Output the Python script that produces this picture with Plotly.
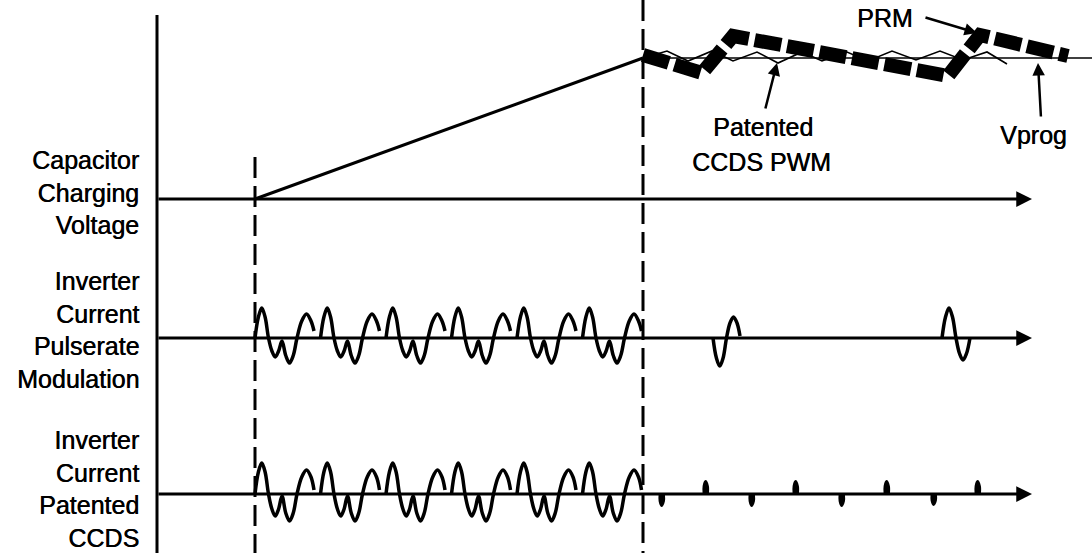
import plotly.graph_objects as go

# ---------------- data (pixel-space schematic coordinates) ----------------
W, H = 1092, 553
AXIS_X = 157
AXIS_TOP = 15
T_START = 255          # left dashed marker (charging start)
T_SWITCH = 643         # right dashed marker (Vprog reached)
AXIS_END = 1032
BASE_CAP = 199
BASE_PRM = 338
BASE_CCDS = 494
V_PROG = 58

# one repetition of the inverter current waveform during charging
PATTERN_DX = [0, 3.4, 6.75, 10.1, 13.5, 16.9, 20.25, 23.6, 27,
              30.75, 34.5, 38.25, 42, 46.75, 51.5, 56, 59]
PRM_PATTERN_AMP = [0, 21, 30, 21, 0, -13, -19, -13, -3,
                   -17.5, -25, -17.5, 0, 17, 24, 17, 7]
CCDS_PATTERN_AMP = [0, 22, 31, 22, 0, -15, -22, -15, -2,
                    -19, -27, -19, 0, 17, 24, 17, 4]
PATTERN_STARTS = [255, 320.5, 386, 451.5, 517, 582.5]

# pulse-rate-modulation refresh pulses after Vprog
PRM_REFRESH_START = [713, 942]
PRM_REFRESH_DX = [[0, 3.4, 6.75, 10.1, 13.5, 17, 20.5, 24, 27],
                  [0, 3.5, 7, 10.5, 14, 17.5, 21, 24.5, 28]]
PRM_REFRESH_AMP = [[0, -20, -28, -20, 0, 15, 21, 15, 2],
                   [0, 21, 30, 21, 0, -15.5, -22, -15.5, 0]]

# CCDS tiny refresh blips after Vprog
BLIP_X = [662, 706, 752, 796, 842, 887, 934, 978]
BLIP_H = [-12, 13, -12, 13, -12, 13, -11, 13]

# PRM voltage (thick dashed) and CCDS PWM voltage (thin zigzag)
PRM_V_X = [643, 702, 733, 948, 980, 1068]
PRM_V_Y = [55, 73, 36, 76, 35, 56]
ZIG_X = [643, 667, 688, 712, 733, 757, 778, 802, 822, 847, 868, 892, 916, 940, 963, 987, 1007]
ZIG_Y = [58, 51, 61, 51, 61, 52, 63, 52, 61, 52, 61, 51, 60, 51, 60, 52, 64]

LEFT_LABELS = ["Capacitor<br>Charging<br>Voltage",
               "Inverter<br>Current<br>Pulserate<br>Modulation",
               "Inverter<br>Current<br>Patented<br>CCDS"]
LEFT_LABEL_Y = [192, 330, 489]

FONT = "Liberation Sans, Arial, Helvetica, sans-serif"
BLACK = "black"
TXT = dict(family=FONT, size=25, color=BLACK, shadow="0.5px 0px 0px black")

fig = go.Figure()


def line(x, y, width=3, dash=None, shape="linear", fill=None):
    fig.add_trace(go.Scatter(x=x, y=y, mode="lines", hoverinfo="skip",
                             showlegend=False, fill=fill, fillcolor=BLACK,
                             line=dict(color=BLACK, width=width, dash=dash, shape=shape,
                                       smoothing=1.0)))


# vertical axis
line([AXIS_X, AXIS_X], [AXIS_TOP, H])
# dashed markers
line([T_START, T_START], [157, H], width=3, dash="21px,8px")
line([T_SWITCH, T_SWITCH], [0, H], width=3, dash="21px,8px")

# baselines with arrows
for base in (BASE_CAP, BASE_PRM, BASE_CCDS):
    fig.add_annotation(x=AXIS_END, y=base, ax=AXIS_X, ay=base, axref="x", ayref="y",
                       xref="x", yref="y", text="", showarrow=True,
                       arrowhead=2, arrowwidth=3, arrowsize=1.05, arrowcolor=BLACK)

# capacitor ramp and Vprog level
line([T_START, T_SWITCH], [BASE_CAP, V_PROG])
line([T_SWITCH, W], [V_PROG, V_PROG], width=1.5)
line(ZIG_X, ZIG_Y, width=1.6)
line(PRM_V_X, PRM_V_Y, width=14, dash="27px,6px")

# inverter current waveforms during charging
for base, amps in ((BASE_PRM, PRM_PATTERN_AMP), (BASE_CCDS, CCDS_PATTERN_AMP)):
    for s in PATTERN_STARTS:
        line([s + d for d in PATTERN_DX], [base - a for a in amps], width=3.5, shape="spline")

# PRM refresh pulses
for s, dxs, amps in zip(PRM_REFRESH_START, PRM_REFRESH_DX, PRM_REFRESH_AMP):
    line([s + d for d in dxs], [BASE_PRM - a for a in amps], width=3.5, shape="spline")

# CCDS blips
for bx, bh in zip(BLIP_X, BLIP_H):
    xs = [bx - 2.5, bx - 2.5, bx - 0.5, bx + 2, bx + 2]
    ys = [BASE_CCDS, BASE_CCDS - 0.6 * bh, BASE_CCDS - bh, BASE_CCDS - 0.6 * bh, BASE_CCDS]
    line(xs, ys, width=1.8, shape="spline", fill="toself")

# left labels
for txt, yy in zip(LEFT_LABELS, LEFT_LABEL_Y):
    fig.add_annotation(x=141, y=yy, xref="x", yref="y", text=txt, showarrow=False,
                       xanchor="right", yanchor="middle", align="right", font=TXT)

# callouts
fig.add_annotation(x=885, y=18, xref="x", yref="y", text="PRM", showarrow=False, font=TXT)
fig.add_annotation(x=977, y=33, ax=924, ay=17, axref="x", ayref="y", xref="x", yref="y",
                   text="", showarrow=True, arrowhead=2, arrowwidth=2.5, arrowsize=1,
                   arrowcolor=BLACK)
fig.add_annotation(x=763, y=127, xref="x", yref="y", text="Patented", showarrow=False, font=TXT)
fig.add_annotation(x=761, y=162, xref="x", yref="y", text="CCDS PWM", showarrow=False, font=TXT)
fig.add_annotation(x=777, y=63, ax=765, ay=110, axref="x", ayref="y", xref="x", yref="y",
                   text="", showarrow=True, arrowhead=2, arrowwidth=2.5, arrowsize=1,
                   arrowcolor=BLACK)
fig.add_annotation(x=1033, y=135, xref="x", yref="y", text="Vprog", showarrow=False, font=TXT)
fig.add_annotation(x=1038, y=63, ax=1041, ay=118, axref="x", ayref="y", xref="x", yref="y",
                   text="", showarrow=True, arrowhead=2, arrowwidth=2.5, arrowsize=1,
                   arrowcolor=BLACK)

fig.update_layout(
    width=W, height=H, autosize=False,
    margin=dict(l=0, r=0, t=0, b=0, pad=0),
    paper_bgcolor="white", plot_bgcolor="white",
    xaxis=dict(range=[0, W], visible=False, fixedrange=True),
    yaxis=dict(range=[H, 0], visible=False, fixedrange=True),
)

fig.write_html("out.html", config={"displayModeBar": False},
               post_script="document.body.style.margin='0';document.body.style.overflow='hidden';")
